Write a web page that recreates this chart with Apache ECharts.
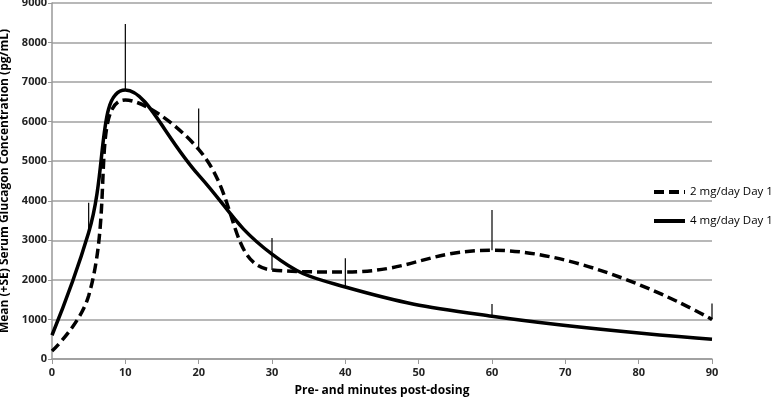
<!DOCTYPE html>
<html>
<head>
<meta charset="utf-8">
<script src="https://cdn.jsdelivr.net/npm/echarts@6/dist/echarts.min.js"></script>
<style>html,body{margin:0;padding:0;background:#fff}#c{width:778px;height:402px}</style>
</head>
<body>
<div id="c"></div>
<script>
var times = [0, 5, 10, 20, 30, 40, 60, 90];
var dose2Mean = [200, 1600, 6550, 5300, 2250, 2200, 2750, 1000];
var dose2Upper = [null, null, null, 6330, 3060, null, 3770, 1400];
var dose4Mean = [600, 3200, 6800, 4650, 2650, 1820, 1080, 500];
var dose4Upper = [null, 3950, 8470, null, null, 2550, 1390, null];
var xTicks = [0, 10, 20, 30, 40, 50, 60, 70, 80, 90];
var yTicks = [0, 1000, 2000, 3000, 4000, 5000, 6000, 7000, 8000, 9000];
var seriesNames = ['2 mg/day Day 1', '4 mg/day Day 1'];

var font = 'Open Sans';
function pairs(ys) { return times.map(function (t, i) { return [t, ys[i]]; }); }
function errData(means, uppers) {
  var out = [];
  times.forEach(function (t, i) { if (uppers[i] != null) out.push([t, means[i], uppers[i]]); });
  return out;
}
function errSeries(data) {
  return {
    type: 'custom', silent: true, z: 1,
    renderItem: function (params, api) {
      var a = api.coord([api.value(0), api.value(1)]);
      var b = api.coord([api.value(0), api.value(2)]);
      return { type: 'line', shape: { x1: a[0], y1: a[1], x2: b[0], y2: b[1] }, style: { stroke: '#000', lineWidth: 1.2 } };
    },
    data: data
  };
}
var chart = echarts.init(document.getElementById('c'));
chart.setOption({
  animation: false,
  grid: { left: 52, right: 66, top: 3, bottom: 43, containLabel: false, outerBoundsMode: 'none' },
  legend: {
    orient: 'vertical', left: 652, top: 186, padding: 0, itemWidth: 31, itemHeight: 12, itemGap: 17,
    data: seriesNames,
    itemStyle: { opacity: 0 },
    lineStyle: { width: 4 },
    textStyle: { fontFamily: font, fontSize: 11.5, color: '#000' }
  },
  xAxis: {
    type: 'value', min: xTicks[0], max: xTicks[xTicks.length - 1], interval: 10,
    name: 'Pre- and minutes post-dosing', nameLocation: 'middle', nameGap: 26,
    nameTextStyle: { fontFamily: font, fontWeight: 'bold', fontSize: 12, color: '#000' },
    axisLine: { lineStyle: { color: '#999', width: 1.5 } },
    axisTick: { show: true, length: 5, lineStyle: { color: '#999' } },
    axisLabel: { fontFamily: font, fontWeight: 'bold', fontSize: 11, color: '#222', margin: 8 },
    splitLine: { show: false }
  },
  yAxis: {
    type: 'value', min: yTicks[0], max: yTicks[yTicks.length - 1], interval: 1000,
    name: 'Mean (+SE) Serum Glucagon Concentration (pg/mL)', nameLocation: 'middle', nameGap: 35,
    nameTextStyle: { fontFamily: font, fontWeight: 'bold', fontSize: 12, color: '#000' },
    axisLine: { show: true, lineStyle: { color: '#999', width: 1.5 } },
    axisTick: { show: true, length: 4, lineStyle: { color: '#999' } },
    axisLabel: { fontFamily: font, fontWeight: 'bold', fontSize: 11, color: '#222', margin: 5,
      formatter: function (v) { return String(v); } },
    splitLine: { lineStyle: { color: '#a0a0a0', width: 1.5 } }
  },
  series: [
    { name: seriesNames[0], type: 'line', smooth: 0.45, symbol: 'none', z: 3,
      lineStyle: { color: '#000', width: 3.5, type: [10, 5] }, itemStyle: { color: '#000' },
      data: pairs(dose2Mean) },
    { name: seriesNames[1], type: 'line', smooth: 0.45, symbol: 'none', z: 3,
      lineStyle: { color: '#000', width: 3.5 }, itemStyle: { color: '#000' },
      data: pairs(dose4Mean) },
    errSeries(errData(dose2Mean, dose2Upper)),
    errSeries(errData(dose4Mean, dose4Upper))
  ]
});
</script>
</body>
</html>
